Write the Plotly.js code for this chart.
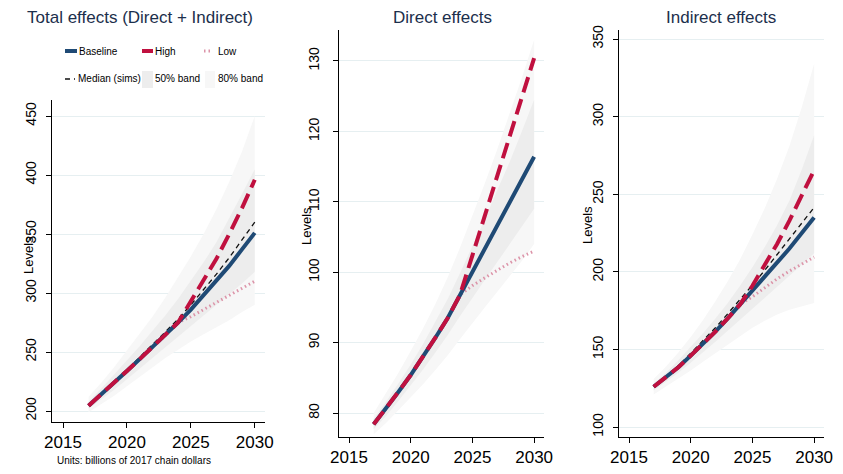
<!DOCTYPE html>
<html>
<head>
<meta charset="utf-8">
<script src="https://cdn.plot.ly/plotly-3.0.1.min.js"></script>
<style>
html, body { margin: 0; padding: 0; background: #ffffff; }
#chart { width: 843px; height: 474px; }
</style>
</head>
<body>
<div id="chart"></div>
<script>
var years = [2017, 2018, 2019, 2020, 2021, 2022, 2023, 2024, 2025, 2026, 2027, 2028, 2029, 2030];
var xTicks = [2015, 2020, 2025, 2030];

// Total effects (Direct + Indirect)
var totalBaseline = [204.5, 214, 224, 234, 244, 254, 264, 275, 286, 298, 310, 323, 337, 351];
var totalHigh = [204.5, 214, 224, 234, 244, 254, 264, 275, 293, 311, 329, 350, 372, 396];
var totalLow = [204.5, 214, 224, 234, 244, 254, 264, 275, 280, 286, 292, 298, 304, 310];
var totalMedian = [205, 214.5, 224.5, 235, 245.5, 256, 267, 278, 290, 303, 316, 330, 345, 360];
var total80Lo = [199, 206, 213, 221, 229, 237, 245, 252, 259, 265, 271, 277, 284, 290];
var total80Hi = [212, 224, 237, 251, 265, 280, 296, 313, 331, 350, 371, 394, 420, 450];
var total50Lo = [202, 210, 218, 227, 236, 245, 254, 263, 272, 281, 290, 299, 308, 318];
var total50Hi = [208, 219, 231, 243, 255, 268, 281, 295, 310, 326, 343, 363, 384, 405];
var totalTicks = [200, 250, 300, 350, 400, 450];

// Direct effects
var directBaseline = [78.4, 80.6, 83.0, 85.4, 88.0, 90.7, 93.5, 96.8, 100.1, 103.3, 106.6, 109.9, 113.1, 116.4];
var directHigh = [78.4, 80.6, 83.0, 85.4, 88.0, 90.7, 93.5, 96.8, 102.4, 108.0, 113.6, 119.2, 124.8, 130.4];
var directLow = [78.4, 80.6, 83.0, 85.4, 88.0, 90.7, 93.5, 96.8, 98.1, 99.2, 100.3, 101.3, 102.2, 103.0];
var directMedian = [78.4, 80.6, 83.0, 85.4, 88.0, 90.7, 93.5, 96.8, 100.1, 103.3, 106.6, 109.9, 113.1, 116.4];
var direct80Lo = [77, 78.6, 80.4, 82.2, 84.1, 86.1, 88.2, 90.5, 92.8, 95, 97.2, 99.4, 101.6, 104];
var direct80Hi = [80, 82.8, 85.7, 88.8, 92, 95.5, 99.3, 103.5, 108, 112.6, 117.4, 122.4, 127.6, 133];
var direct50Lo = [77.7, 79.6, 81.7, 83.9, 86.2, 88.6, 91.1, 93.8, 96.4, 98.9, 101.4, 103.9, 106.4, 109];
var direct50Hi = [79.2, 81.6, 84.2, 86.9, 89.8, 92.9, 96.2, 99.9, 103.6, 107.5, 111.6, 115.6, 120, 124.5];
var directTicks = [80, 90, 100, 110, 120, 130];

// Indirect effects
var indirectBaseline = [126, 132, 138.5, 146, 153.5, 161.5, 170, 179, 187.5, 196.5, 205.5, 215, 225, 235];
var indirectHigh = [126, 132, 138.5, 146, 153.5, 161.5, 170, 179, 191, 204, 218, 233, 249, 265.5];
var indirectLow = [126, 132, 138.5, 146, 153.5, 161.5, 170, 179, 184, 190, 195.5, 200.5, 205, 209.5];
var indirectMedian = [126, 132.5, 139.5, 147.5, 155.5, 164, 173, 182, 191.5, 201, 211, 221, 231, 241.5];
var indirect80Lo = [121, 126, 131, 136.5, 142, 147.5, 153, 158.5, 164, 168.5, 172.5, 175.5, 178, 180];
var indirect80Hi = [131, 139, 148, 158, 169, 181, 194, 208, 224, 241, 260, 281, 306, 334];
var indirect50Lo = [123.5, 129, 135, 141.5, 148, 155, 162, 169, 176, 183, 190, 197, 204.5, 212];
var indirect50Hi = [128, 135, 143, 151.5, 160.5, 170, 180, 191, 203, 216, 230, 246, 266, 288];
var indirectTicks = [100, 150, 200, 250, 300, 350];

var navy = "#1f4a75",
    red = "#c0103f",
    pink = "#dc93a8",
    band80 = "#f7f7f7",
    band50 = "#ededed",
    font = "Liberation Sans, Arial, sans-serif";

var W = 843,
    H = 474;

function px(x) {
    return x / W;
}

function py(y) {
    return 1 - y / H;
}

function lineTrace(yv, ax, color, width, dash) {
    return {
        x: years,
        y: yv,
        xaxis: "x" + ax,
        yaxis: "y" + ax,
        mode: "lines",
        type: "scatter",
        line: { color: color, width: width, dash: dash },
        hoverinfo: "skip",
        showlegend: false,
    };
}

function bandTraces(lo, hi, ax, color) {
    return [
        {
            x: years,
            y: lo,
            xaxis: "x" + ax,
            yaxis: "y" + ax,
            mode: "lines",
            type: "scatter",
            line: { width: 0 },
            hoverinfo: "skip",
            showlegend: false,
        },
        {
            x: years,
            y: hi,
            xaxis: "x" + ax,
            yaxis: "y" + ax,
            mode: "lines",
            type: "scatter",
            fill: "tonexty",
            fillcolor: color,
            line: { width: 0 },
            hoverinfo: "skip",
            showlegend: false,
        },
    ];
}

function panelTraces(ax, b80lo, b80hi, b50lo, b50hi, median, low, baseline, high) {
    return []
        .concat(bandTraces(b80lo, b80hi, ax, band80))
        .concat(bandTraces(b50lo, b50hi, ax, band50))
        .concat([
            lineTrace(median, ax, "#111111", 1.3, "5px,4px"),
            lineTrace(low, ax, pink, 3, "1.5px,3px"),
            lineTrace(baseline, ax, navy, 4, "solid"),
            lineTrace(high, ax, red, 4, "16px,7px"),
        ]);
}

function xAxis(domain, range, anchor) {
    return {
        domain: domain,
        range: range,
        anchor: anchor,
        tickvals: xTicks,
        ticks: "outside",
        ticklen: 5,
        tickcolor: "#000000",
        showline: true,
        linecolor: "#000000",
        linewidth: 1,
        showgrid: false,
        zeroline: false,
        tickfont: { family: font, size: 17, color: "#000000" },
    };
}

function yAxis(domain, range, anchor, ticks, standoff) {
    return {
        domain: domain,
        range: range,
        anchor: anchor,
        tickvals: ticks,
        tickangle: -90,
        ticks: "outside",
        ticklen: 5,
        tickcolor: "#000000",
        ticklabelstandoff: standoff,
        showline: true,
        linecolor: "#000000",
        linewidth: 1,
        showgrid: true,
        gridcolor: "#e6eff1",
        gridwidth: 1,
        zeroline: false,
        tickfont: { family: font, size: 14, color: "#000000" },
    };
}

function drawPlot() {
    var data = []
        .concat(panelTraces("", total80Lo, total80Hi, total50Lo, total50Hi, totalMedian, totalLow, totalBaseline, totalHigh))
        .concat(panelTraces("2", direct80Lo, direct80Hi, direct50Lo, direct50Hi, directMedian, directLow, directBaseline, directHigh))
        .concat(panelTraces("3", indirect80Lo, indirect80Hi, indirect50Lo, indirect50Hi, indirectMedian, indirectLow, indirectBaseline, indirectHigh));

    var titleFont = { family: font, size: 17, color: "#1c2f4c" };
    var smallFont = { family: font, size: 10, color: "#000000" };

    var annotations = [
        { text: "Total effects (Direct + Indirect)", x: px(140), y: py(17), font: titleFont },
        { text: "Direct effects", x: px(442), y: py(17), font: titleFont },
        { text: "Indirect effects", x: px(721), y: py(17), font: titleFont },
        { text: "Levels", x: px(28), y: py(255), textangle: -90, font: { family: font, size: 13, color: "#000000" } },
        { text: "Levels", x: px(307), y: py(226), textangle: -90, font: { family: font, size: 13, color: "#000000" } },
        { text: "Levels", x: px(587), y: py(225), textangle: -90, font: { family: font, size: 13, color: "#000000" } },
        { text: "Units: billions of 2017 chain dollars", x: px(55), y: py(460), xanchor: "left", font: { family: font, size: 10, color: "#000000" } },
        { text: "Baseline", x: px(77), y: py(51), xanchor: "left", font: smallFont },
        { text: "High", x: px(153), y: py(51), xanchor: "left", font: smallFont },
        { text: "Low", x: px(216), y: py(51), xanchor: "left", font: smallFont },
        { text: "Median (sims)", x: px(76), y: py(79), xanchor: "left", font: smallFont },
        { text: "50% band", x: px(153), y: py(79), xanchor: "left", font: smallFont },
        { text: "80% band", x: px(216), y: py(79), xanchor: "left", font: smallFont },
    ].map(function (a) {
        return Object.assign({ xref: "paper", yref: "paper", showarrow: false, xanchor: "center", yanchor: "middle" }, a);
    });

    var shapes = [
        { type: "line", x0: px(65), x1: px(77), y0: py(51), y1: py(51), line: { color: navy, width: 4 } },
        { type: "line", x0: px(142), x1: px(153), y0: py(51), y1: py(51), line: { color: red, width: 4 } },
        { type: "line", x0: px(204), x1: px(212), y0: py(51), y1: py(51), line: { color: pink, width: 3, dash: "1.5px,3px" } },
        { type: "line", x0: px(65), x1: px(75), y0: py(79), y1: py(79), line: { color: "#111111", width: 1.3, dash: "5px,4px" } },
        { type: "rect", x0: px(142), x1: px(153), y0: py(71), y1: py(88), fillcolor: band50, line: { width: 0 } },
        { type: "rect", x0: px(205), x1: px(215), y0: py(71), y1: py(88), fillcolor: band80, line: { width: 0 } },
    ].map(function (s) {
        return Object.assign({ xref: "paper", yref: "paper", layer: "below" }, s);
    });

    var layout = {
        width: W,
        height: H,
        showlegend: false,
        paper_bgcolor: "#ffffff",
        plot_bgcolor: "#ffffff",
        margin: { l: 0, r: 0, t: 0, b: 0, pad: 0 },
        xaxis: xAxis([px(52), px(265)], [2014.14, 2030.8], "y"),
        yaxis: yAxis([1 - 422 / H, 1 - 100 / H], [190.7, 463.6], "x", totalTicks, 4),
        xaxis2: xAxis([px(339), px(544)], [2014.19, 2030.8], "y2"),
        yaxis2: yAxis([1 - 437 / H, 1 - 30 / H], [76.6, 134.4], "x2", directTicks, 8),
        xaxis3: xAxis([px(619), px(824)], [2014.19, 2030.8], "y3"),
        yaxis3: yAxis([1 - 437 / H, 1 - 30 / H], [93.6, 355.8], "x3", indirectTicks, 4),
        annotations: annotations,
        shapes: shapes,
    };

    Plotly.newPlot("chart", data, layout, { staticPlot: true });
}

drawPlot();
</script>
</body>
</html>
